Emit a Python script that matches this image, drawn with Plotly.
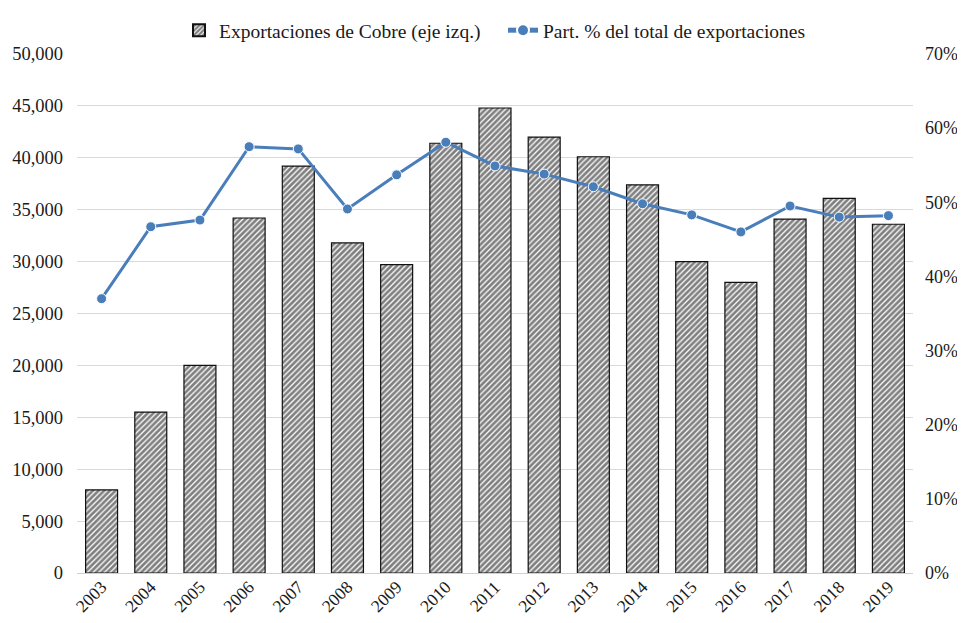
import plotly.graph_objects as go

years = [str(y) for y in range(2003, 2020)]
exportaciones = [8000, 15500, 20000, 34200, 39200, 31800, 29700, 41400, 44800,
                 42000, 40100, 37400, 30000, 28000, 34100, 36100, 33600]
participacion = [37.0, 46.7, 47.6, 57.5, 57.2, 49.1, 53.7, 58.1, 54.9,
                 53.8, 52.1, 49.8, 48.3, 46.0, 49.5, 48.0, 48.2]

left_ticks = list(range(0, 50001, 5000))
left_labels = [f"{v:,}" for v in left_ticks]
right_ticks = list(range(0, 71, 10))
right_labels = [f"{v}%" for v in right_ticks]

FS = 18.5
font = dict(family="Liberation Serif, Times New Roman, serif", size=FS, color="#1a1a1a")

fig = go.Figure()
fig.add_trace(go.Bar(
    x=years, y=exportaciones, name="Exportaciones de Cobre (eje izq.)",
    marker=dict(color="white", line=dict(color="#111111", width=1.2),
                pattern=dict(shape="/", fgcolor="#000000", bgcolor="#ffffff",
                             size=4, solidity=0.68)),
    yaxis="y",
))
fig.add_trace(go.Scatter(
    x=years, y=participacion, name="Part. % del total de exportaciones",
    mode="lines+markers",
    line=dict(color="#4a7ebb", width=3),
    marker=dict(size=10, color="#4a7ebb", line=dict(color="white", width=1)),
    yaxis="y2",
))

fig.update_layout(
    width=949, height=607,
    margin=dict(l=69, r=44, t=46, b=42, autoexpand=False),
    paper_bgcolor="white", plot_bgcolor="white",
    font=font,
    bargap=0.35,
    showlegend=True,
    legend=dict(orientation="h", x=171 / 949, xanchor="left", xref="container",
                y=1 - 3 / 607, yanchor="top", yref="container",
                bgcolor="rgba(0,0,0,0)",
                font=dict(size=19.5), traceorder="normal", entrywidth=279,
                itemsizing="constant"),
    xaxis=dict(type="category", tickangle=-45, showgrid=False, automargin=False,
               range=[-0.5, 16.5], ticklabelstandoff=-4,
               showline=True, linecolor="#d0d0d0", linewidth=1,
               ticks="", tickfont=dict(size=17.5)),
    yaxis=dict(range=[0, 50000], tickvals=left_ticks, ticktext=left_labels,
               showgrid=True, gridcolor="#d9d9d9", gridwidth=1, automargin=False,
               ticklabelstandoff=13,
               zeroline=False, showline=False, ticks="", tickfont=dict(size=FS)),
    yaxis2=dict(range=[0, 70], tickvals=right_ticks, ticktext=right_labels,
                overlaying="y", side="right", showgrid=False, zeroline=False,
                ticklabelstandoff=11,
                automargin=False, ticks="", tickfont=dict(size=18)),
)

fig.write_html("out.html")
